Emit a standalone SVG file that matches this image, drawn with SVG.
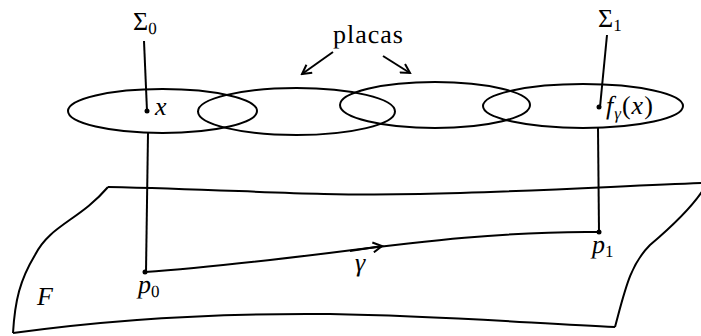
<svg xmlns="http://www.w3.org/2000/svg" width="701" height="336" viewBox="0 0 701 336" text-rendering="geometricPrecision">
<defs>
<style>
.ln{fill:none;stroke:#000;stroke-width:2}
.tx{font-family:"Liberation Serif","Times New Roman",serif;font-size:26px}
.i{font-style:italic}
.s{font-size:17px}
</style>
<marker id="ah2" markerWidth="12" markerHeight="12" refX="10" refY="6" orient="auto" markerUnits="userSpaceOnUse">
<path d="M1,1 L10,6 L1,11" fill="none" stroke="#000" stroke-width="2"/>
</marker>
</defs>
<rect width="701" height="336" fill="#fff"/>
<g id="surface">
<path class="ln" d="M108,187 C250,190 300,196 420,194 C520,192 620,186 701,183"/>
<path class="ln" d="M108,187 C80,220 50,225 35,255 C20,280 15,300 13,333"/>
<path class="ln" d="M13,333 C120,318 220,313 330,314 C450,316 540,324 615,327"/>
<path class="ln" d="M615,327 C625,290 630,265 650,245 C670,228 690,210 703,190"/>
<text class="tx i" font-family="Liberation Serif" x="37" y="305">F</text>
</g>
<g id="plates">
<ellipse class="ln" cx="162.5" cy="111" rx="94.5" ry="22"/>
<ellipse class="ln" cx="296.5" cy="111.5" rx="98.5" ry="23.5"/>
<ellipse class="ln" cx="435" cy="105" rx="95" ry="23"/>
<ellipse class="ln" cx="583" cy="106" rx="100" ry="22"/>
<text class="tx" font-family="Liberation Serif" x="333" y="43" letter-spacing="1">placas</text>
</g>
<g id="sigma0">
<text class="tx" font-family="Liberation Serif" x="133" y="30">Σ<tspan class="s" dy="4">0</tspan></text>
</g>
<g id="sigma1">
<text class="tx" font-family="Liberation Serif" x="598" y="27">Σ<tspan class="s" dy="4">1</tspan></text>
</g>
<g id="x">
<circle cx="147" cy="111" r="2.5"/>
<text class="tx i" font-family="Liberation Serif" x="155" y="115">x</text>
</g>
<g id="fx">
<circle cx="599" cy="107" r="2.5"/>
<text class="tx" font-family="Liberation Serif" x="606" y="114" letter-spacing="1"><tspan class="i">f</tspan><tspan class="s i" dy="5">γ</tspan><tspan dy="-5">(</tspan><tspan class="i">x</tspan>)</text>
</g>
<g id="p0">
<circle cx="145" cy="272" r="2.5"/>
<text class="tx i" font-family="Liberation Serif" x="138" y="293">p<tspan class="s" dy="4" font-style="normal">0</tspan></text>
</g>
<g id="p1">
<circle cx="599" cy="232" r="2.5"/>
<text class="tx i" font-family="Liberation Serif" x="592" y="253">p<tspan class="s" dy="4" font-style="normal">1</tspan></text>
</g>
<g id="gamma-label">
<text class="tx i" font-family="Liberation Serif" x="355" y="271">γ</text>
</g>
<g id="connectors">
<path class="ln" d="M144,41 L147,111"/>
<path class="ln" d="M607,35 L600,107"/>
<path class="ln" d="M148,133 L146,272"/>
<path class="ln" d="M598,128 L599,232"/>
<path class="ln" d="M145,272 C300,262 450,230 599,232"/>
<path class="ln" d="M350,251 L382,246" marker-end="url(#ah2)"/>
<path class="ln" d="M333,52 L302,74" marker-end="url(#ah2)"/>
<path class="ln" d="M383,56 L410,73" marker-end="url(#ah2)"/>
</g>
</svg>
